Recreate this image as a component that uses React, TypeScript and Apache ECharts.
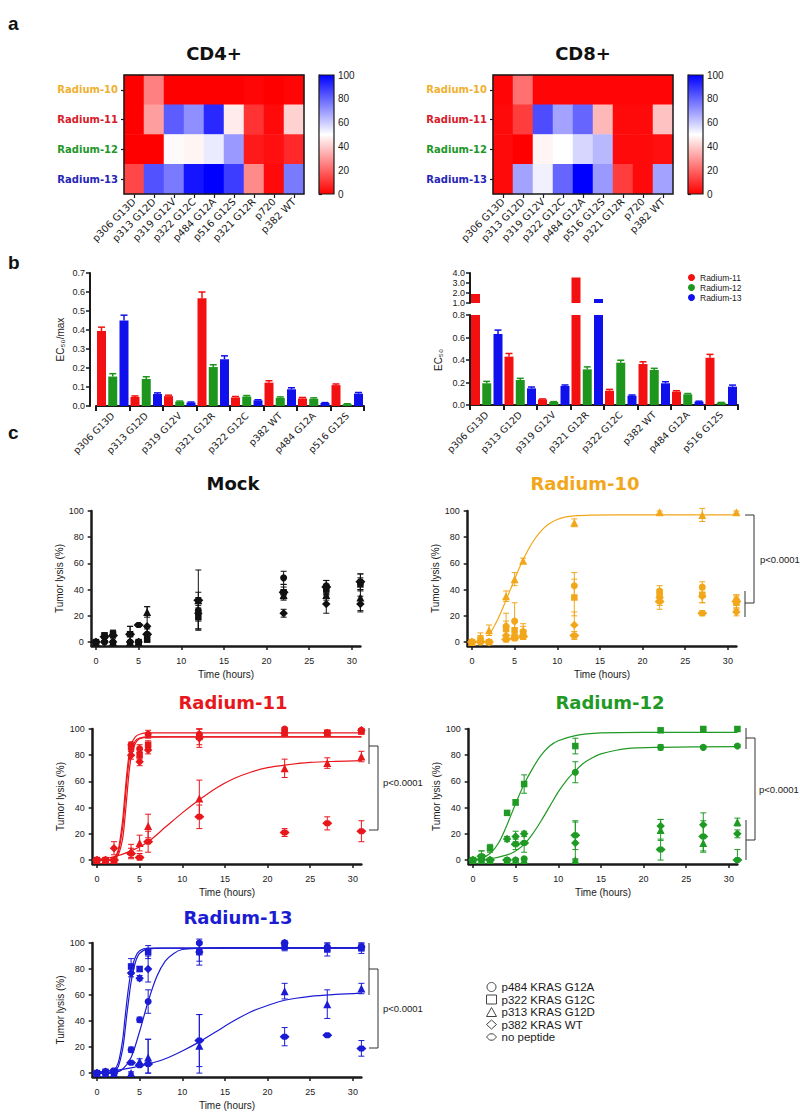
import React, { useEffect, useRef } from "react";
import * as echarts from "echarts";

// ---------- a: heatmaps ----------
const hmPeptides = ["p306 G13D", "p313 G12D", "p319 G12V", "p322 G12C", "p484 G12A", "p516 G12S", "p321 G12R", "p720", "p382 WT"];
const hmClones = ["Radium-10", "Radium-11", "Radium-12", "Radium-13"];
const cd4R10 = [0, 25, 0, 0, 0, 0, 1, 0, 1];
const cd4R11 = [0, 31, 82, 72, 92, 46, 10, 2, 41];
const cd4R12 = [0, 0, 49, 48, 54, 70, 5, 3, 8];
const cd4R13 = [14, 84, 76, 96, 100, 88, 27, 2, 76];
const cd8R10 = [1, 22, 1, 1, 1, 1, 1, 1, 1];
const cd8R11 = [2, 12, 85, 68, 80, 36, 2, 2, 38];
const cd8R12 = [2, 0, 48, 50, 58, 64, 2, 2, 3];
const cd8R13 = [2, 68, 53, 80, 100, 70, 12, 2, 68];

// ---------- b: bar charts ----------
const barPeptides = ["p306 G13D", "p313 G12D", "p319 G12V", "p321 G12R", "p322 G12C", "p382 WT", "p484 G12A", "p516 G12S"];
const ratioR11 = [0.395, 0.048, 0.052, 0.567, 0.045, 0.123, 0.04, 0.11];
const ratioR11Err = [0.02, 0.005, 0.005, 0.033, 0.005, 0.01, 0.005, 0.006];
const ratioR12 = [0.155, 0.142, 0.023, 0.205, 0.05, 0.043, 0.038, 0.01];
const ratioR12Err = [0.015, 0.012, 0.003, 0.012, 0.005, 0.005, 0.005, 0.002];
const ratioR13 = [0.45, 0.063, 0.018, 0.246, 0.03, 0.088, 0.016, 0.065];
const ratioR13Err = [0.028, 0.006, 0.003, 0.018, 0.003, 0.008, 0.002, 0.006];
const ec50R11 = [1.9, 0.43, 0.05, 3.55, 0.127, 0.364, 0.119, 0.42];
const ec50R11Err = [0, 0.028, 0.004, 0, 0.012, 0.02, 0.008, 0.03];
const ec50R12 = [0.193, 0.222, 0.027, 0.317, 0.376, 0.311, 0.095, 0.02];
const ec50R12Err = [0.017, 0.015, 0.003, 0.022, 0.022, 0.015, 0.007, 0.003];
const ec50R13 = [0.631, 0.148, 0.169, 1.4, 0.083, 0.193, 0.03, 0.163];
const ec50R13Err = [0.035, 0.012, 0.009, 0, 0.006, 0.014, 0.004, 0.014];

// ---------- c: killing time courses ----------
const times = [0, 1, 2, 4, 5, 6, 12, 22, 27, 31];
const timeTicks = [0, 5, 10, 15, 20, 25, 30];
const lysisTicks = [0, 20, 40, 60, 80, 100];
const conditions = ["p484 KRAS G12A", "p322 KRAS G12C", "p313 KRAS G12D", "p382 KRAS WT", "no peptide"];

const mockA = [0, 0, 0, 0, 0, 6, 24, 49, 43, 46];
const mockAe = [1, 1, 1, 1, 1, 4, 8, 5, 4, 6];
const mockC = [0, 5, 6, 6, 0, 2, 19, 38, 40, 44];
const mockCe = [1, 2, 3, 6, 1, 2, 9, 4, 4, 5];
const mockD = [0, 3, 0, 0, 0, 23, 32, 36, 36, 34];
const mockDe = [1, 3, 1, 1, 1, 4, 23, 3, 4, 10];
const mockW = [0, 0, 0, 0, 0, 12, 22, 22, 29, 29];
const mockWe = [1, 1, 1, 1, 1, 15, 12, 3, 7, 6];
const mockN = [0, 4, 5, 6, 13, 6, 32, 38, 42, 46];
const mockNe = [1, 3, 4, 6, 1, 5, 6, 6, 5, 6];

const r10A = [0, 0, 0, 12, 16, 8, 43, 39, 42, 32];
const r10Ae = [1, 1, 1, 10, 14, 6, 10, 4, 4, 4];
const r10C = [0, 2, 0, 10, 9, 7, 34, 36, 36, 30];
const r10Ce = [1, 3, 1, 6, 6, 5, 14, 4, 6, 5];
const r10D = [0, 3, 9, 35, 48, 62, 91, 99, 97, 99];
const r10De = [1, 4, 4, 4, 5, 2, 3, 1, 5, 1];
const r10W = [0, 1, 0, 5, 5, 5, 13, 34, 35, 23];
const r10We = [1, 2, 1, 3, 3, 3, 10, 6, 5, 3];
const r10N = [0, 0, 0, 2, 3, 4, 5, 31, 22, 31];
const r10Ne = [1, 1, 1, 2, 2, 2, 3, 6, 2, 5];
const r10FitT = [2, 3, 4, 5, 6, 7, 8, 9, 10, 11, 12, 14, 17, 22, 31];
const r10FitD = [5, 17, 32, 48, 63, 75, 84, 90, 93.5, 95.5, 96.3, 96.8, 97, 97, 97];

const r11A = [0, 0, 0, 88, 85, 96, 96, 100, 97, 99];
const r11Ae = [1, 1, 1, 2, 3, 3, 4, 1, 2, 1];
const r11C = [0, 0, 0, 86, 80, 88, 94, 97, 97, 98];
const r11Ce = [1, 1, 1, 3, 3, 3, 6, 2, 2, 1];
const r11D = [0, 0, 0, 7, 13, 26, 47, 70, 74, 79];
const r11De = [1, 1, 1, 5, 6, 9, 14, 7, 4, 4];
const r11W = [0, 0, 9, 80, 75, 84, 93, 97, 97, 99];
const r11We = [1, 1, 5, 3, 3, 3, 7, 2, 2, 1];
const r11N = [0, 0, 0, 5, 2, 14, 33, 21, 28, 22];
const r11Ne = [1, 1, 1, 4, 3, 8, 9, 3, 5, 8];
const r11FitFastT = [0, 1.5, 2, 2.5, 3, 3.25, 3.5, 3.75, 4, 4.5, 5, 6, 8, 31];
const r11FitA = [0, 0.3, 1.5, 8, 30, 48, 66, 80, 88, 94, 96, 97, 97, 97];
const r11FitC = [0, 0.2, 1, 6, 24, 41, 60, 75, 84, 91, 93, 94, 94, 94];
const r11FitW = [0, 0.1, 0.6, 4, 16, 30, 48, 66, 78, 89, 92.5, 93.8, 94, 94];
const r11FitSlowT = [0, 2, 4, 6, 8, 10, 12, 14, 16, 18, 20, 22, 25, 28, 31];
const r11FitD = [0.5, 2.5, 7, 14, 25, 36, 46, 55, 62, 67, 70.5, 72.5, 74.5, 75.3, 75.8];

const r12A = [0, 0, 0, 0, 0, 1, 67, 86, 86, 87];
const r12Ae = [1, 1, 1, 1, 1, 1, 8, 2, 1, 1];
const r12C = [0, 2, 9, 36, 44, 58, 87, 99, 100, 100];
const r12Ce = [1, 5, 3, 1, 2, 7, 6, 1, 1, 1];
const r12D = [0, 0, 0, 0, 0, 0, 0, 23, 13, 29];
const r12De = [1, 1, 1, 1, 1, 1, 1, 8, 6, 3];
const r12W = [0, 0, 0, 16, 18, 20, 13, 26, 27, 20];
const r12We = [1, 1, 1, 2, 4, 2, 16, 5, 9, 3];
const r12N = [0, 3, 0, 0, 12, 13, 19, 8, 18, 0];
const r12Ne = [1, 4, 1, 1, 4, 7, 11, 8, 12, 8];
const r12FitCT = [0, 1, 2, 3, 4, 5, 6, 7, 8, 9, 10, 12, 15, 20, 31];
const r12FitC = [0.5, 1.5, 5, 13, 27, 43, 58, 70, 80, 87, 91, 95, 97, 97.5, 97.5];
const r12FitAT = [0, 2, 4, 5, 6, 7, 8, 9, 10, 11, 12, 13, 14, 15, 18, 22, 31];
const r12FitA = [0, 1, 4, 7, 12, 20, 30, 41, 52, 61, 68, 74, 78, 81, 85, 86, 86.5];

const r13A = [0, 1, 0, 18, 41, 55, 100, 100, 97, 97];
const r13Ae = [1, 1, 1, 2, 2, 9, 1, 2, 3, 3];
const r13C = [0, 1, 1, 82, 80, 93, 93, 97, 95, 96];
const r13Ce = [1, 1, 1, 6, 2, 5, 7, 3, 5, 4];
const r13D = [0, 0, 0, 0, 9, 12, 21, 63, 53, 65];
const r13De = [1, 1, 1, 1, 2, 14, 24, 6, 11, 4];
const r13W = [0, 1, 0, 77, 73, 80, 93, 100, 96, 97];
const r13We = [1, 1, 1, 3, 2, 10, 10, 1, 2, 2];
const r13N = [0, 0, 2, 8, 6, 7, 25, 28, 29, 19];
const r13Ne = [1, 1, 1, 1, 1, 19, 20, 7, 1, 6];
const r13FitFastT = [0, 1.5, 2, 2.5, 3, 3.25, 3.5, 3.75, 4, 4.5, 5, 6, 8, 31];
const r13FitC = [0, 0.5, 2, 8, 25, 40, 55, 68, 78, 89, 94, 96, 96, 96];
const r13FitW = [0, 0.3, 1, 5, 18, 30, 45, 58, 70, 85, 92, 95.5, 96, 96];
const r13FitAT = [0, 2, 3, 4, 5, 6, 7, 8, 9, 10, 12, 15, 31];
const r13FitA = [0, 0.5, 3, 12, 32, 55, 74, 86, 92, 95, 96, 96.5, 96.5];
const r13FitDT = [0, 2, 4, 6, 8, 10, 12, 14, 16, 18, 20, 22, 25, 28, 31];
const r13FitD = [1, 2, 4, 7, 11, 17, 24, 32, 40, 47, 52, 56, 59, 60.5, 61.5];

// ---------- styling ----------
const SANS = "Liberation Sans";
const VSANS = "DejaVu Sans";
const INK = "#1a1a1a";
const ORANGE = "#f2a71b";
const RED = "#e8171c";
const GREEN = "#1f9a24";
const BLUE = "#1b1bd4";
const BAR_RED = "#f21010";
const BAR_GREEN = "#1e961e";
const BAR_BLUE = "#1010ec";
const NP_PATH = "path://M0,5L5,0L11,0L16,5L11,10L5,10Z";
const condSymbols = ["circle", "rect", "triangle", "diamond", NP_PATH];
const condSizes: any[] = [7, 6.5, 8, 8.5, [10, 6]];

function buildOption() {
  const grids: any[] = [];
  const xAxes: any[] = [];
  const yAxes: any[] = [];
  const series: any[] = [];
  const graphics: any[] = [];

  const text = (x: number, y: number, t: string, font: string, fill: string, align = "center") => ({
    type: "text", x, y, silent: true, z: 100,
    style: { text: t, font, fill, textAlign: align, textVerticalAlign: "middle" },
  });
  const seg = (x1: number, y1: number, x2: number, y2: number) => ({
    type: "line", silent: true, z: 100, shape: { x1, y1, x2, y2 }, style: { stroke: "#333", lineWidth: 1 },
  });
  const poly = (points: number[][]) => ({
    type: "polyline", silent: true, z: 100, shape: { points }, style: { stroke: "#333", lineWidth: 1, fill: "none" },
  });

  // ---------------- heatmaps ----------------
  const hmLabelColors = ["#f0b030", "#d8202a", "#23962a", "#2626b8"];
  const rich: any = {};
  hmLabelColors.forEach((c, i) => {
    rich["r" + i] = { color: c, fontWeight: "bold", fontSize: 10, fontFamily: VSANS };
  });
  const heatmaps = [
    { left: 124, rows: [cd4R10, cd4R11, cd4R12, cd4R13], title: "CD4+" },
    { left: 493, rows: [cd8R10, cd8R11, cd8R12, cd8R13], title: "CD8+" },
  ];
  heatmaps.forEach((h) => {
    const gi = grids.length;
    grids.push({ left: h.left, top: 75, width: 180, height: 119, outerBoundsMode: "none" });
    xAxes.push({
      type: "category", gridIndex: gi, data: hmPeptides,
      axisLine: { show: false },
      axisTick: { show: true, alignWithLabel: true, length: 4, lineStyle: { color: INK, width: 1.2 } },
      axisLabel: { rotate: 45, interval: 0, fontSize: 10, fontFamily: VSANS, color: INK, margin: 6 },
      splitLine: { show: false },
    });
    yAxes.push({
      type: "category", gridIndex: gi, data: hmClones, inverse: true,
      axisLine: { show: false },
      axisTick: { show: true, alignWithLabel: true, length: 3, lineStyle: { color: INK, width: 1.2 } },
      axisLabel: { margin: 6, formatter: (v: string, i: number) => `{r${i}|${v}}`, rich },
      splitLine: { show: false },
    });
    series.push({
      type: "heatmap", xAxisIndex: gi, yAxisIndex: gi,
      data: h.rows.flatMap((r, ri) => r.map((v, ci) => [ci, ri, v])),
      itemStyle: { borderWidth: 0 }, emphasis: { disabled: true }, silent: true,
    });
    const ci = grids.length;
    grids.push({ left: h.left + 195, top: 75, width: 15, height: 119, outerBoundsMode: "none" });
    xAxes.push({ type: "value", gridIndex: ci, min: 0, max: 1, show: false });
    yAxes.push({
      type: "value", gridIndex: ci, position: "right", min: 0, max: 100, interval: 20,
      axisLine: { show: true, lineStyle: { color: INK, width: 1.2 } },
      axisTick: { show: true, length: 3, lineStyle: { color: INK, width: 1.2 } },
      axisLabel: { fontSize: 10, fontFamily: SANS, color: INK, margin: 4 },
      splitLine: { show: false },
    });
    graphics.push({
      type: "rect", silent: true, z: 90,
      shape: { x: h.left + 195, y: 75, width: 15, height: 119 },
      style: {
        fill: new echarts.graphic.LinearGradient(0, 0, 0, 1, [
          { offset: 0, color: "#0000ff" },
          { offset: 0.5, color: "#ffffff" },
          { offset: 1, color: "#ff0000" },
        ]),
        stroke: INK, lineWidth: 1.2,
      },
    });
    graphics.push({
      type: "rect", silent: true, z: 100,
      shape: { x: h.left, y: 75, width: 180, height: 119 },
      style: { fill: "none", stroke: INK, lineWidth: 1.5 },
    });
    graphics.push(text(h.left + 90, 53, h.title, `bold 18px "${VSANS}"`, "#111"));
  });

  // ---------------- bar charts ----------------
  const barW = 9;
  const offs = [-11.25, 0, 11.25];
  const barErr = (off: number) => (params: any, api: any) => {
    const e = api.value(2);
    if (!e) return null;
    const i = api.value(0);
    const v = api.value(1);
    const p0 = api.coord([i, v]);
    const p1 = api.coord([i, v + e]);
    const x = p0[0] + off;
    const color = api.visual("color");
    return {
      type: "group",
      children: [
        { type: "line", shape: { x1: x, y1: p0[1], x2: x, y2: p1[1] }, style: { stroke: color, lineWidth: 1.5 } },
        { type: "line", shape: { x1: x - 3.5, y1: p1[1], x2: x + 3.5, y2: p1[1] }, style: { stroke: color, lineWidth: 1.5 } },
      ],
    };
  };
  const barAxisX = (gi: number, show = true) => ({
    type: "category", gridIndex: gi, data: barPeptides, show,
    axisLine: { lineStyle: { color: INK, width: 2 } },
    axisTick: { show: true, length: 5, interval: 0, lineStyle: { color: INK, width: 2 } },
    axisLabel: { rotate: 45, interval: 0, fontSize: 9.5, fontFamily: VSANS, color: INK, margin: 8 },
    splitLine: { show: false },
  });
  const barAxisY = (gi: number, min: number, max: number, interval: number, extra: any = {}) => ({
    type: "value", gridIndex: gi, min, max, interval,
    axisLine: { show: true, lineStyle: { color: INK, width: 2 } },
    axisTick: { show: true, length: 4, lineStyle: { color: INK, width: 1.5 } },
    axisLabel: { fontSize: 9, fontFamily: SANS, color: INK, margin: 5, formatter: (v: number) => v.toFixed(1) },
    splitLine: { show: false },
    nameTextStyle: { fontSize: 10, fontFamily: SANS, color: INK },
    ...extra,
  });
  const barSets = (gi: number, sets: number[][], errs: number[][] | null, clipTop: boolean) => {
    const names = ["Radium-11", "Radium-12", "Radium-13"];
    const colors = [BAR_RED, BAR_GREEN, BAR_BLUE];
    sets.forEach((vals, k) => {
      series.push({
        type: "bar", name: names[k], xAxisIndex: gi, yAxisIndex: gi,
        data: clipTop ? vals.map((v) => (v > 1 ? v : "-")) : vals,
        barWidth: barW, barGap: "25%", clip: true, silent: true,
        itemStyle: { color: colors[k] }, z: 2,
      });
      if (errs) {
        series.push({
          type: "custom", xAxisIndex: gi, yAxisIndex: gi, silent: true,
          renderItem: barErr(offs[k]), encode: { x: 0, y: 1 },
          data: vals.map((v, i) => [i, v, errs[k][i]]),
          itemStyle: { color: colors[k] }, z: 3,
        });
      }
    });
  };
  {
    const gi = grids.length;
    grids.push({ left: 96, top: 273, width: 268, height: 133, outerBoundsMode: "none" });
    xAxes.push(barAxisX(gi));
    yAxes.push(barAxisY(gi, 0, 0.7, 0.1, {
      offset: 6, name: "EC₅₀/max", nameLocation: "middle", nameGap: 25,
    }));
    barSets(gi, [ratioR11, ratioR12, ratioR13], [ratioR11Err, ratioR12Err, ratioR13Err], false);
  }
  {
    const gi = grids.length;
    grids.push({ left: 470, top: 315, width: 268, height: 90, outerBoundsMode: "none" });
    xAxes.push(barAxisX(gi));
    yAxes.push(barAxisY(gi, 0, 0.8, 0.2, {
      name: "EC₅₀", nameLocation: "middle", nameGap: 27,
    }));
    barSets(gi, [ec50R11, ec50R12, ec50R13], [ec50R11Err, ec50R12Err, ec50R13Err], false);
  }
  {
    const gi = grids.length;
    grids.push({ left: 470, top: 273, width: 268, height: 30, outerBoundsMode: "none" });
    xAxes.push(barAxisX(gi, false));
    yAxes.push(barAxisY(gi, 1, 4, 1));
    barSets(gi, [ec50R11, ec50R12, ec50R13], null, true);
  }

  // ---------------- time courses ----------------
  const timeErr = (params: any, api: any) => {
    const t = api.value(0);
    const v = api.value(1);
    const e = api.value(2);
    if (!e) return null;
    const lo = api.coord([t, Math.max(v - e, 0)]);
    const hi = api.coord([t, v + e]);
    const color = api.visual("color");
    const st = { stroke: color, lineWidth: 1 };
    return {
      type: "group",
      children: [
        { type: "line", shape: { x1: lo[0], y1: lo[1], x2: hi[0], y2: hi[1] }, style: st },
        { type: "line", shape: { x1: hi[0] - 3, y1: hi[1], x2: hi[0] + 3, y2: hi[1] }, style: st },
        { type: "line", shape: { x1: lo[0] - 3, y1: lo[1], x2: lo[0] + 3, y2: lo[1] }, style: st },
      ],
    };
  };
  const panels = [
    { left: 91.7, top: 511, height: 135, color: "#111111", title: "Mock", tx: 233, ty: 483,
      vals: [mockA, mockC, mockD, mockW, mockN], errs: [mockAe, mockCe, mockDe, mockWe, mockNe], fits: [] as number[][][] },
    { left: 467.7, top: 511, height: 135, color: ORANGE, title: "Radium-10", tx: 585, ty: 483,
      vals: [r10A, r10C, r10D, r10W, r10N], errs: [r10Ae, r10Ce, r10De, r10We, r10Ne], fits: [[r10FitT, r10FitD]] },
    { left: 92.7, top: 729, height: 135, color: RED, title: "Radium-11", tx: 233, ty: 702,
      vals: [r11A, r11C, r11D, r11W, r11N], errs: [r11Ae, r11Ce, r11De, r11We, r11Ne],
      fits: [[r11FitFastT, r11FitA], [r11FitFastT, r11FitC], [r11FitFastT, r11FitW], [r11FitSlowT, r11FitD]] },
    { left: 468.7, top: 729, height: 135, color: GREEN, title: "Radium-12", tx: 610, ty: 702,
      vals: [r12A, r12C, r12D, r12W, r12N], errs: [r12Ae, r12Ce, r12De, r12We, r12Ne],
      fits: [[r12FitCT, r12FitC], [r12FitAT, r12FitA]] },
    { left: 92.7, top: 943, height: 134, color: BLUE, title: "Radium-13", tx: 238, ty: 917,
      vals: [r13A, r13C, r13D, r13W, r13N], errs: [r13Ae, r13Ce, r13De, r13We, r13Ne],
      fits: [[r13FitFastT, r13FitC], [r13FitFastT, r13FitW], [r13FitAT, r13FitA], [r13FitDT, r13FitD]] },
  ];
  panels.forEach((p) => {
    const gi = grids.length;
    grids.push({ left: p.left, top: p.top, width: 268.7, height: p.height, outerBoundsMode: "none" });
    xAxes.push({
      type: "value", gridIndex: gi, min: -0.5, max: 31,
      axisLine: { show: true, onZero: false, lineStyle: { color: INK, width: 2.5 } },
      axisTick: { show: true, length: 4, customValues: timeTicks, lineStyle: { color: INK, width: 1.5 } },
      axisLabel: { customValues: timeTicks, fontSize: 9, fontFamily: SANS, color: INK, margin: 10 },
      splitLine: { show: false },
      name: "Time (hours)", nameLocation: "middle", nameGap: 23,
      nameTextStyle: { fontSize: 10, fontFamily: SANS, color: INK },
    });
    yAxes.push({
      type: "value", gridIndex: gi, min: -3, max: 100,
      axisLine: { show: true, onZero: false, lineStyle: { color: INK, width: 2.5 } },
      axisTick: { show: true, length: 4, customValues: lysisTicks, lineStyle: { color: INK, width: 1.5 } },
      axisLabel: { customValues: lysisTicks, fontSize: 9, fontFamily: SANS, color: INK, margin: 8 },
      splitLine: { show: false },
      name: "Tumor lysis (%)", nameLocation: "middle", nameGap: 24,
      nameTextStyle: { fontSize: 10, fontFamily: SANS, color: INK },
    });
    p.fits.forEach(([ft, fv]) => {
      series.push({
        type: "line", xAxisIndex: gi, yAxisIndex: gi, silent: true,
        data: ft.map((t, i) => [t, fv[i]]),
        smooth: 0.3, showSymbol: false, symbol: "none",
        lineStyle: { color: p.color, width: 1.2 }, itemStyle: { color: p.color }, z: 2,
      });
    });
    p.vals.forEach((vals, k) => {
      series.push({
        type: "custom", xAxisIndex: gi, yAxisIndex: gi, silent: true,
        renderItem: timeErr, encode: { x: 0, y: 1 },
        data: times.map((t, i) => [t, vals[i], p.errs[k][i]]),
        itemStyle: { color: p.color }, z: 3,
      });
      series.push({
        type: "scatter", name: conditions[k], xAxisIndex: gi, yAxisIndex: gi, silent: true,
        data: times.map((t, i) => [t, vals[i]]),
        symbol: condSymbols[k], symbolSize: condSizes[k],
        itemStyle: { color: p.color, opacity: 1 }, z: 4,
      });
    });
    graphics.push(text(p.tx, p.ty, p.title, `bold 18px "${VSANS}"`, p.color === "#111111" ? "#111" : p.color));
  });

  // significance brackets
  graphics.push(poly([[745, 515], [754, 515], [754, 603], [745, 603]]));
  graphics.push(seg(745, 591, 745, 617));
  graphics.push(text(760, 559, "p<0.0001", `9.5px "${SANS}"`, INK, "left"));
  graphics.push(seg(369, 728, 369, 764));
  graphics.push(poly([[369, 746], [378, 746], [378, 830], [369, 830]]));
  graphics.push(text(383, 782, "p<0.0001", `9.5px "${SANS}"`, INK, "left"));
  graphics.push(seg(746, 728, 746, 749));
  graphics.push(poly([[746, 738], [755, 738], [755, 840], [746, 840]]));
  graphics.push(seg(746, 820, 746, 860));
  graphics.push(text(759, 789, "p<0.0001", `9.5px "${SANS}"`, INK, "left"));
  graphics.push(seg(369, 943, 369, 995));
  graphics.push(poly([[369, 969], [378, 969], [378, 1048], [369, 1048]]));
  graphics.push(text(383, 1008, "p<0.0001", `9.5px "${SANS}"`, INK, "left"));

  // panel letters
  graphics.push(text(8, 23, "a", `bold 19px "${SANS}"`, "#111", "left"));
  graphics.push(text(8, 262, "b", `bold 19px "${SANS}"`, "#111", "left"));
  graphics.push(text(8, 432, "c", `bold 19px "${SANS}"`, "#111", "left"));

  return {
    animation: false,
    backgroundColor: "#ffffff",
    textStyle: { fontFamily: SANS },
    grid: grids,
    xAxis: xAxes,
    yAxis: yAxes,
    visualMap: [{
      type: "continuous", show: false, min: 0, max: 100, seriesIndex: [0, 1],
      inRange: { color: ["#ff0000", "#ffffff", "#0000ff"] },
    }],
    legend: [
      {
        data: ["Radium-11", "Radium-12", "Radium-13"], orient: "vertical", left: 683, top: 268,
        icon: "circle", itemWidth: 7, itemHeight: 7, itemGap: 1, selectedMode: false,
        textStyle: { fontSize: 8.5, lineHeight: 8, fontFamily: SANS, color: INK },
      },
      {
        data: conditions.map((n, k) => ({
          name: n, icon: condSymbols[k],
          itemStyle: { color: "transparent", borderColor: "#444", borderWidth: 1 },
        })),
        orient: "vertical", left: 481, top: 976, itemWidth: 10, itemHeight: 9, itemGap: 0.5,
        selectedMode: false,
        textStyle: { fontSize: 11.5, fontFamily: SANS, color: INK },
      },
    ],
    graphic: graphics,
    series,
  };
}

export default function App() {
  const ref = useRef<HTMLDivElement>(null);
  useEffect(() => {
    if (!ref.current) return;
    const chart = echarts.init(ref.current, null, { renderer: "svg" });
    chart.setOption(buildOption() as any);
    return () => chart.dispose();
  }, []);
  return (
    <div
      ref={ref}
      style={{ position: "absolute", left: 0, top: 0, width: 800, height: 1112, background: "#fff" }}
    />
  );
}
